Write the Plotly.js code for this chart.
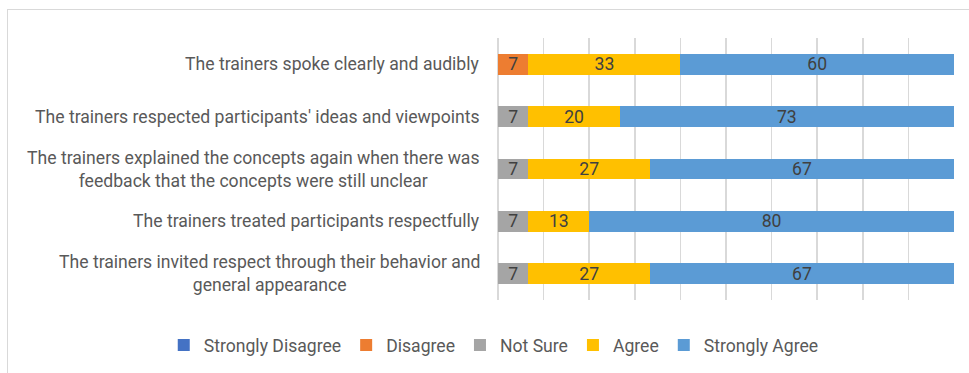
<!DOCTYPE html>
<html>
<head>
<meta charset="utf-8">
<script src="https://cdn.plot.ly/plotly-3.0.1.min.js"></script>
<style>
  html, body { margin: 0; padding: 0; background: #ffffff; overflow: hidden; }
  #frame { position: absolute; left: 7px; top: 9px; width: 1000px; height: 400px;
           border-left: 1.5px solid #d9d9d9; border-top: 1.5px solid #d9d9d9; }
  #chart { position: absolute; left: 0; top: 0; width: 969px; height: 373px; }
</style>
</head>
<body>
<div id="frame"></div>
<div id="chart"></div>
<script>
// Categories (top to bottom)
const statements = [
  "The trainers spoke clearly and audibly",
  "The trainers respected participants' ideas and viewpoints",
  "The trainers explained the concepts again when there was<br>feedback that the concepts were still unclear",
  "The trainers treated participants respectfully",
  "The trainers invited respect through their behavior and<br>general appearance"
];
const seriesNames = ["Strongly Disagree", "Disagree", "Not Sure", "Agree", "Strongly Agree"];
const seriesColors = ["#4472C4", "#ED7D31", "#A5A5A5", "#FFC000", "#5B9BD5"];

// Percentages per statement
const stronglyDisagree = [0, 0, 0, 0, 0];
const disagree        = [6.67, 0, 0, 0, 0];
const notSure         = [0, 6.67, 6.67, 6.67, 6.67];
const agree           = [33.33, 20, 26.67, 13.33, 26.67];
const stronglyAgree   = [60, 73.33, 66.67, 80, 66.67];

const seriesValues = [stronglyDisagree, disagree, notSure, agree, stronglyAgree];

const FONT = 'Roboto, sans-serif';
const FS = 17.6;

const traces = seriesNames.map((name, i) => ({
  type: 'bar',
  orientation: 'h',
  name: name,
  y: statements,
  x: seriesValues[i],
  marker: { color: seriesColors[i], line: { width: 0 } },
  text: seriesValues[i].map(v => v > 0 ? String(Math.round(v)) : ''),
  textposition: 'inside',
  insidetextanchor: 'middle',
  textangle: 0,
  constraintext: 'none',
  textfont: { family: FONT, size: FS, color: '#404040' },
  hoverinfo: 'x+name'
}));

const annotations = statements.map(s => ({
  xref: 'paper', yref: 'y',
  x: 0, y: s,
  xanchor: 'right', yanchor: 'middle',
  xshift: -16,
  align: 'center',
  text: s,
  showarrow: false,
  font: { family: FONT, size: FS, color: '#595959' }
}));

const layout = {
  width: 969, height: 373,
  margin: { l: 498, r: 15, t: 38, b: 73, pad: 0, autoexpand: false },
  paper_bgcolor: 'rgba(0,0,0,0)',
  plot_bgcolor: 'rgba(0,0,0,0)',
  barmode: 'stack',
  bargap: 0.6,
  showlegend: true,
  legend: {
    orientation: 'h',
    xref: 'paper', x: -0.733, xanchor: 'left',
    yref: 'paper', y: -0.172, yanchor: 'middle',
    font: { family: FONT, size: FS, color: '#595959' },
    traceorder: 'normal',
    itemclick: false,
    bgcolor: 'rgba(0,0,0,0)'
  },
  xaxis: {
    range: [0, 100],
    dtick: 10,
    tick0: 0,
    showticklabels: false,
    ticks: '',
    showgrid: true,
    gridcolor: '#d9d9d9',
    gridwidth: 1.5,
    zeroline: true,
    zerolinecolor: '#d9d9d9',
    zerolinewidth: 1.5,
    showline: false,
    fixedrange: true
  },
  yaxis: {
    type: 'category',
    categoryorder: 'array',
    categoryarray: statements,
    autorange: 'reversed',
    showticklabels: false,
    ticks: '',
    showgrid: false,
    zeroline: false,
    showline: false,
    fixedrange: true
  },
  annotations: annotations
};

Plotly.newPlot('chart', traces, layout, { displayModeBar: false, staticPlot: true });
</script>
</body>
</html>
